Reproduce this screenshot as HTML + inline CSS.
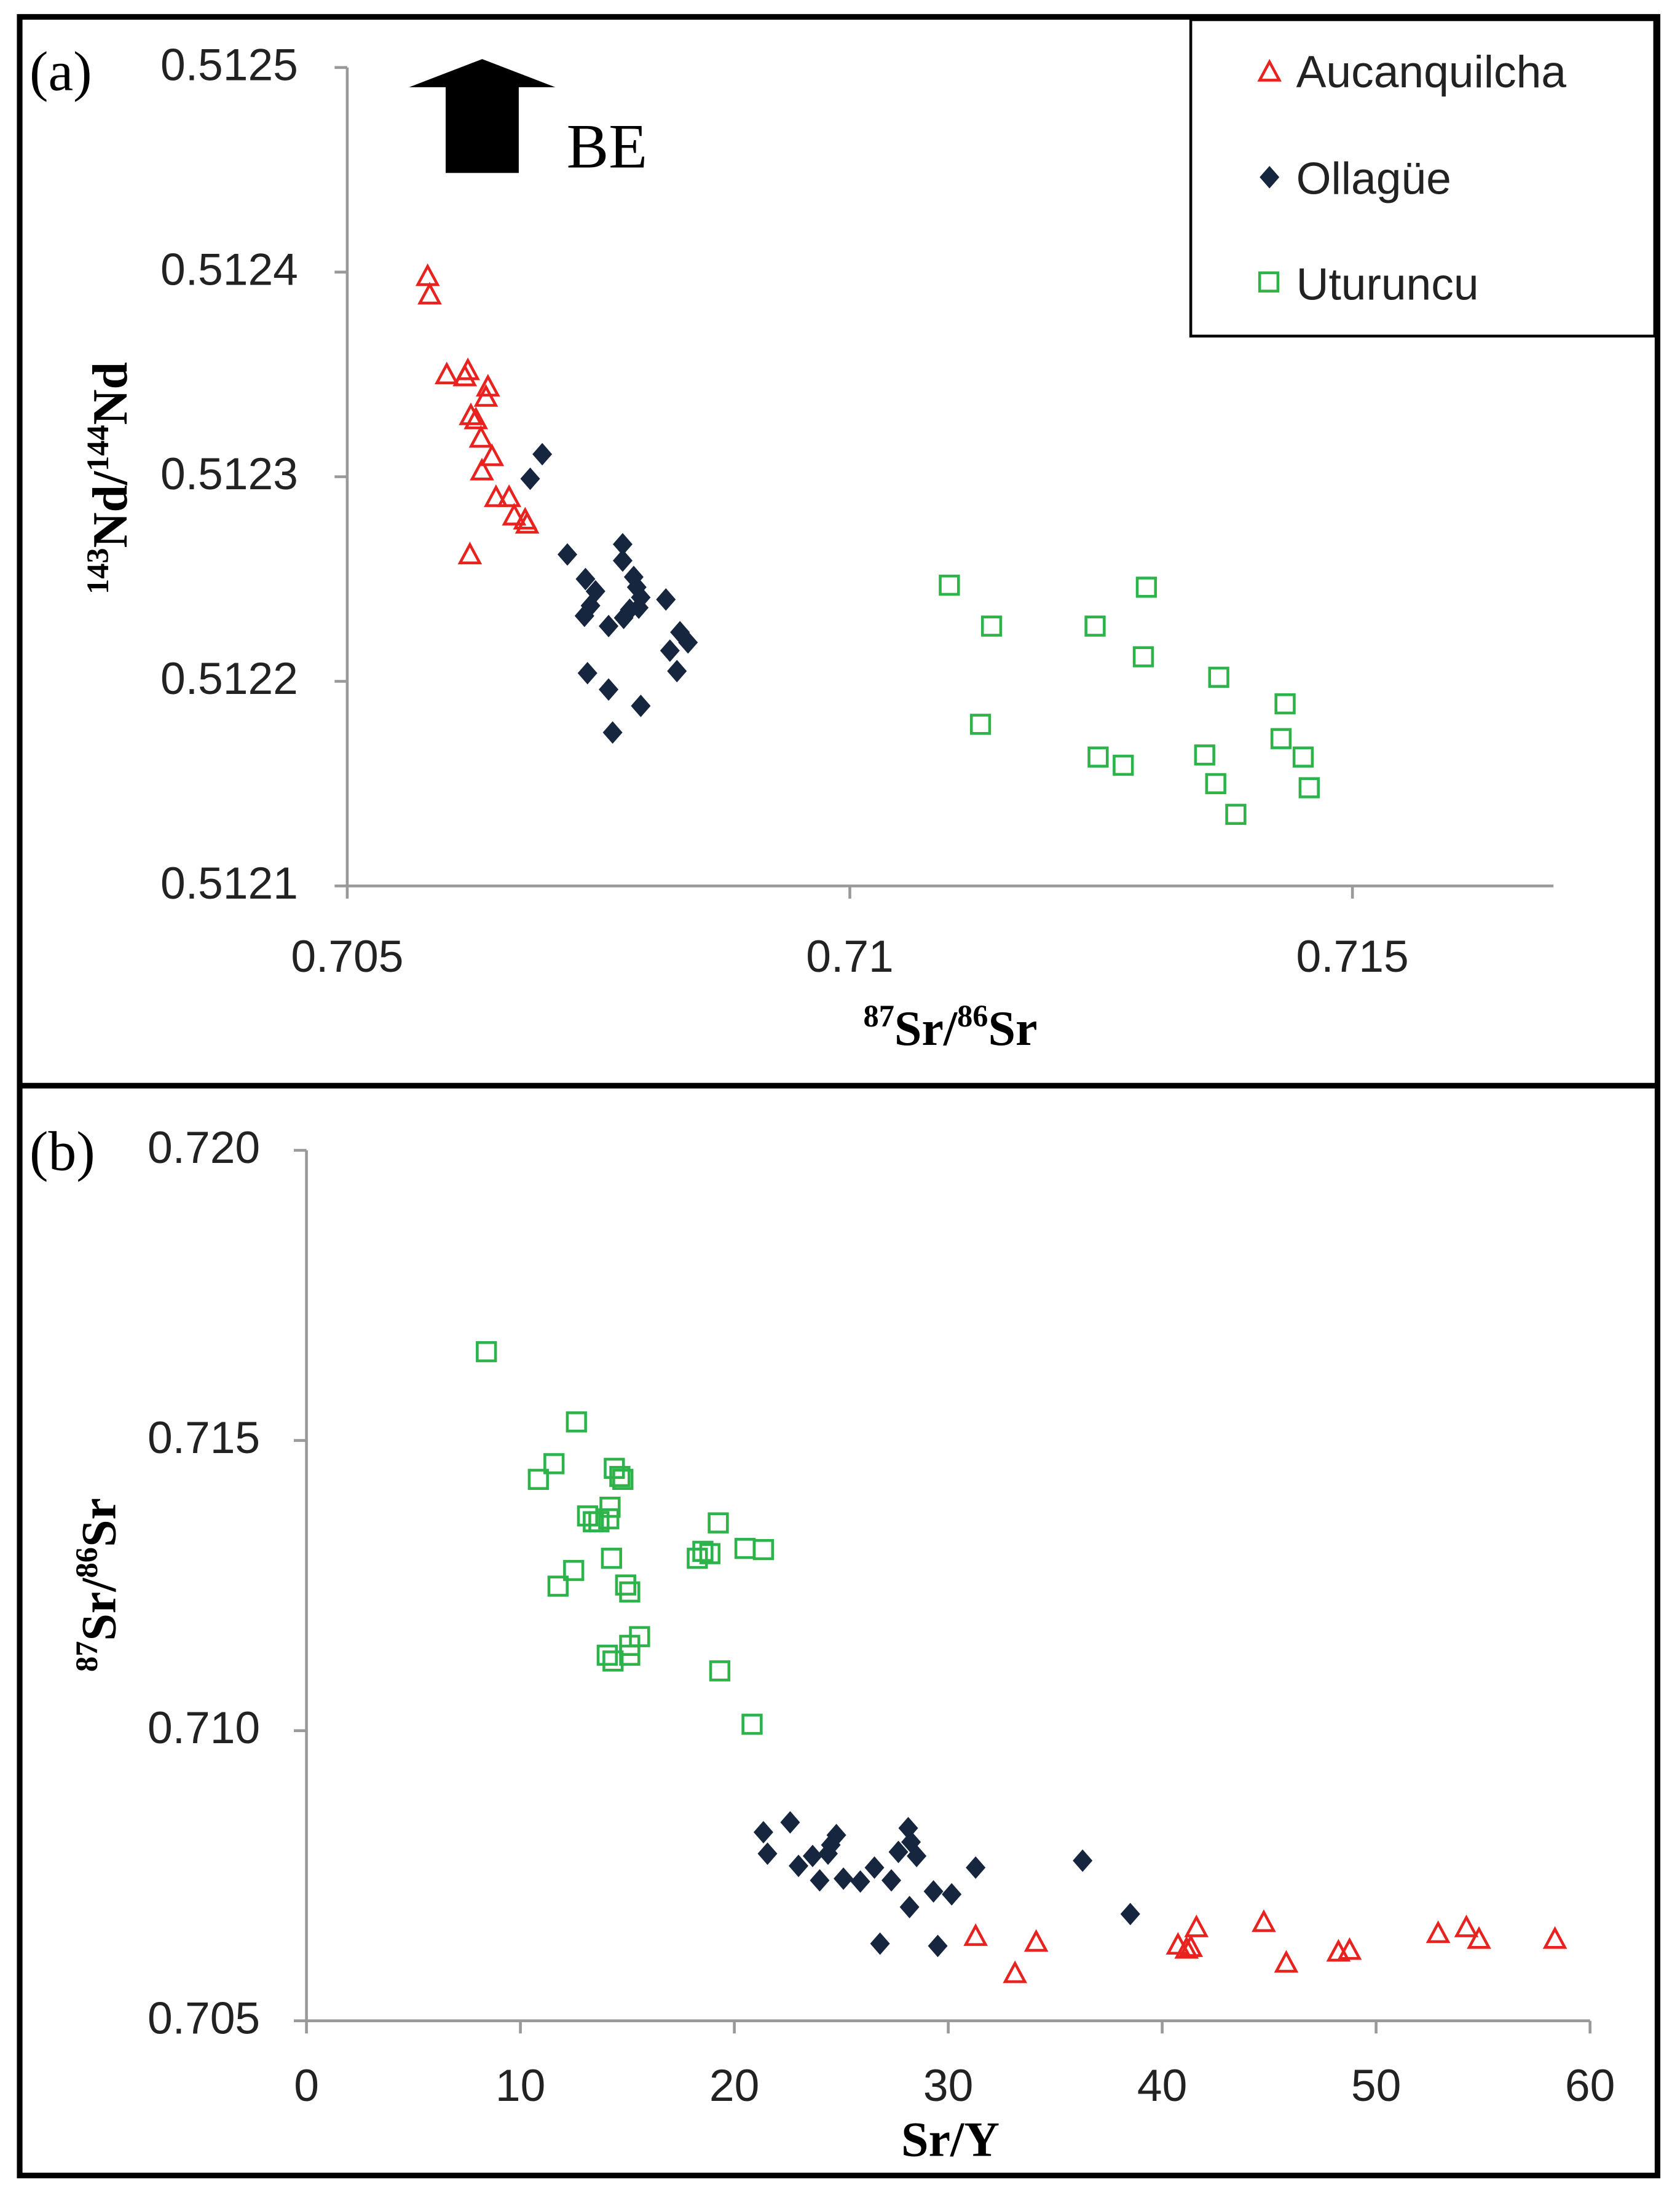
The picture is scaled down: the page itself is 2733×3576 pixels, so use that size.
<!DOCTYPE html>
<html><head><meta charset="utf-8"><style>
html,body{margin:0;padding:0;background:#fff}
svg{display:block}
.t{font-family:"Liberation Sans",sans-serif;font-size:32px;fill:#222}
.s{font-family:"Liberation Serif",serif}
</style></head><body>
<svg id="chart" width="2733" height="3576" viewBox="0 0 1195 1563" preserveAspectRatio="none" xmlns="http://www.w3.org/2000/svg">
<rect x="14" y="12" width="1165" height="1535" fill="none" stroke="#000" stroke-width="4"/>
<line x1="14" y1="772" x2="1179" y2="772" stroke="#000" stroke-width="4"/>
<text class="s" x="21" y="64" font-size="40">(a)</text>
<text class="s" x="21" y="832" font-size="40">(b)</text>
<path d="M291,62 L343,42 L395,62 L369,62 L369,123 L317,123 L317,62 Z" fill="#000"/>
<text class="s" x="403" y="119" font-size="45">BE</text>
<g>
<rect x="847" y="14" width="330" height="225" fill="#fff" stroke="#000" stroke-width="2"/>
<path d="M903,44 L910,57 L896,57 Z" fill="none" stroke="#e8231f" stroke-width="2"/>
<text class="t" x="922" y="62" font-size="33">Aucanquilcha</text>
<path d="M903,118 L910,126 L903,134 L896,126 Z" fill="#17263f"/>
<text class="t" x="922" y="138" font-size="33">Ollagüe</text>
<rect x="896" y="194" width="13" height="13" fill="none" stroke="#2db34a" stroke-width="2"/>
<text class="t" x="922" y="213" font-size="33">Uturuncu</text>
</g>
<g id="pa"></g>
<g id="pb"></g>
<text class="s" x="676" y="743" text-anchor="middle" font-size="35" font-weight="bold"><tspan font-size="22" dy="-13">87</tspan><tspan dy="13">Sr/</tspan><tspan font-size="22" dy="-13">86</tspan><tspan dy="13">Sr</tspan></text>
<text class="s" transform="translate(90,340) rotate(-90)" text-anchor="middle" font-size="35" font-weight="bold"><tspan font-size="22" dy="-13">143</tspan><tspan dy="13">Nd/</tspan><tspan font-size="22" dy="-13">144</tspan><tspan dy="13">Nd</tspan></text>
<text class="s" x="676" y="1533" text-anchor="middle" font-size="35" font-weight="bold">Sr/Y</text>
<text class="s" transform="translate(82,1127) rotate(-90)" text-anchor="middle" font-size="35" font-weight="bold"><tspan font-size="22" dy="-13">87</tspan><tspan dy="13">Sr/</tspan><tspan font-size="22" dy="-13">86</tspan><tspan dy="13">Sr</tspan></text>
</svg>
<script>
const aYTicks=[0.5121,0.5122,0.5123,0.5124,0.5125];
const aXTicks=[0.705,0.71,0.715];
const aXTickLabels=["0.705","0.71","0.715"];
const aAucX=[0.70580,0.70582,0.70599,0.70620,0.70623,0.70628,0.70640,0.70638,0.70633,0.70644,0.70634,0.70648,0.70661,0.70666,0.70677,0.70679,0.70622,0.70617];
const aAucY=[0.512398,0.512389,0.512350,0.512352,0.512330,0.512328,0.512344,0.512339,0.512319,0.512310,0.512303,0.512290,0.512290,0.512281,0.512279,0.512277,0.512262,0.512349];
const aOllX=[0.70694,0.70682,0.70719,0.70774,0.70774,0.70737,0.70747,0.70785,0.70788,0.70736,0.70742,0.70760,0.70775,0.70790,0.70792,0.70817,0.70831,0.70839,0.70821,0.70828,0.70739,0.70760,0.70792,0.70764,0.70781];
const aOllY=[0.512311,0.512299,0.512262,0.512267,0.512259,0.512250,0.512244,0.512251,0.512246,0.512232,0.512237,0.512227,0.512231,0.512236,0.512241,0.512240,0.512224,0.512219,0.512215,0.512205,0.512204,0.512196,0.512188,0.512175,0.512235];
const aUtuX=[0.71099,0.71141,0.71130,0.71244,0.71295,0.71292,0.71247,0.71272,0.71367,0.71433,0.71353,0.71429,0.71451,0.71364,0.71457,0.71384];
const aUtuY=[0.512247,0.512227,0.512179,0.512227,0.512246,0.512212,0.512163,0.512159,0.512202,0.512189,0.512164,0.512172,0.512163,0.512150,0.512148,0.512135];
const bYTicks=[0.705,0.710,0.715,0.720];
const bXTicks=[0,10,20,30,40,50,60];
const bUtuX=[8.41,12.62,11.57,10.84,14.39,14.79,14.65,13.14,13.41,14.19,14.13,13.67,14.26,12.49,11.76,14.92,15.11,19.25,18.27,18.86,18.53,20.50,21.36,15.57,15.11,14.06,14.33,15.11,19.32,20.83];
const bUtuY=[0.71653,0.71532,0.71460,0.71433,0.71452,0.71433,0.71438,0.71370,0.71360,0.71385,0.71365,0.71360,0.71297,0.71276,0.71249,0.71251,0.71239,0.71358,0.71297,0.71305,0.71309,0.71314,0.71312,0.71162,0.71147,0.71130,0.71120,0.71130,0.71103,0.71011];
const bOllX=[22.61,21.36,21.55,23.00,23.66,23.99,24.51,24.77,25.10,25.89,26.55,27.34,27.67,28.13,28.26,28.52,29.31,30.16,31.28,28.19,26.81,29.51,36.28,38.51,24.38];
const bOllY=[0.70842,0.70825,0.70788,0.70767,0.70784,0.70742,0.70803,0.70820,0.70745,0.70740,0.70764,0.70742,0.70791,0.70832,0.70808,0.70784,0.70723,0.70718,0.70764,0.70696,0.70633,0.70629,0.70776,0.70684,0.70788];
const bAucX=[31.28,34.11,33.12,40.74,41.14,41.34,41.60,44.75,45.80,48.24,48.76,52.90,54.22,54.81,58.36];
const bAucY=[0.70646,0.70636,0.70582,0.70631,0.70624,0.70627,0.70661,0.70670,0.70600,0.70619,0.70622,0.70651,0.70661,0.70641,0.70641];

const NS="http://www.w3.org/2000/svg";
function mk(p,t,a){const e=document.createElementNS(NS,t);for(const k in a)e.setAttribute(k,a[k]);p.appendChild(e);return e;}
function lin(d0,d1,r0,r1){return v=>r0+(v-d0)/(d1-d0)*(r1-r0);}
function marker(g,kind,x,y){
  let e;
  if(kind==='tri') e=mk(g,'path',{d:`M${x},${y-7} L${x+7},${y+6} L${x-7},${y+6} Z`,fill:'none',stroke:'#e8231f','stroke-width':2});
  else if(kind==='dia') e=mk(g,'path',{d:`M${x},${y-8} L${x+7},${y} L${x},${y+8} L${x-7},${y} Z`,fill:'#17263f'});
  else e=mk(g,'rect',{x:x-6.5,y:y-6.5,width:13,height:13,fill:'none',stroke:'#2db34a','stroke-width':2});
  return e;
}
function axes(g,x0,x1,y0,y1,xs,ys,xT,xL,yT,yL,labX,labY){
  const ax=mk(g,'path',{d:`M${x0},${y1} L${x0},${y0} L${x1},${y0}`,fill:'none',stroke:'#999','stroke-width':2});
  
  
  yT.forEach((v,i)=>{const y=ys(v);
    const t=mk(g,'line',{x1:x0-9,y1:y,x2:x0,y2:y,stroke:'#999','stroke-width':2});
    
    
    const l=mk(g,'text',{x:labX,y:y+9,'text-anchor':'end',class:'t'});l.textContent=yL[i];
    
    });
  xT.forEach((v,i)=>{const x=xs(v);
    const t=mk(g,'line',{x1:x,y1:y0,x2:x,y2:y0+9,stroke:'#999','stroke-width':2});
    
    
    const l=mk(g,'text',{x:x,y:labY,'text-anchor':'middle',class:'t'});l.textContent=xL[i];
    
    });
}
function series(g,kind,name,X,Y,xs,ys){
  const sg=mk(g,'g',{});
  
  
  X.forEach((v,i)=>{const m=marker(sg,kind,xs(v),ys(Y[i]));
    
    });
}
const pa=document.getElementById('pa');
const axs=lin(0.705,0.715,247,962), ays=lin(0.5121,0.5125,630,48);
axes(pa,247,1105,630,48,axs,ays,aXTicks,aXTickLabels,aYTicks,aYTicks.map(v=>v.toFixed(4)),212,691);
series(pa,'sq','uturuncu-series-a',aUtuX,aUtuY,axs,ays);
series(pa,'dia','ollague-series-a',aOllX,aOllY,axs,ays);
series(pa,'tri','aucanquilcha-series-a',aAucX,aAucY,axs,ays);
const pb=document.getElementById('pb');
const bxs=lin(0,60,218,1131), bys=lin(0.705,0.720,1437,818);
axes(pb,218,1131,1437,818,bxs,bys,bXTicks,bXTicks.map(String),bYTicks,bYTicks.map(v=>v.toFixed(3)),185,1494);
series(pb,'sq','uturuncu-series-b',bUtuX,bUtuY,bxs,bys);
series(pb,'dia','ollague-series-b',bOllX,bOllY,bxs,bys);
series(pb,'tri','aucanquilcha-series-b',bAucX,bAucY,bxs,bys);
</script>
</body></html>
